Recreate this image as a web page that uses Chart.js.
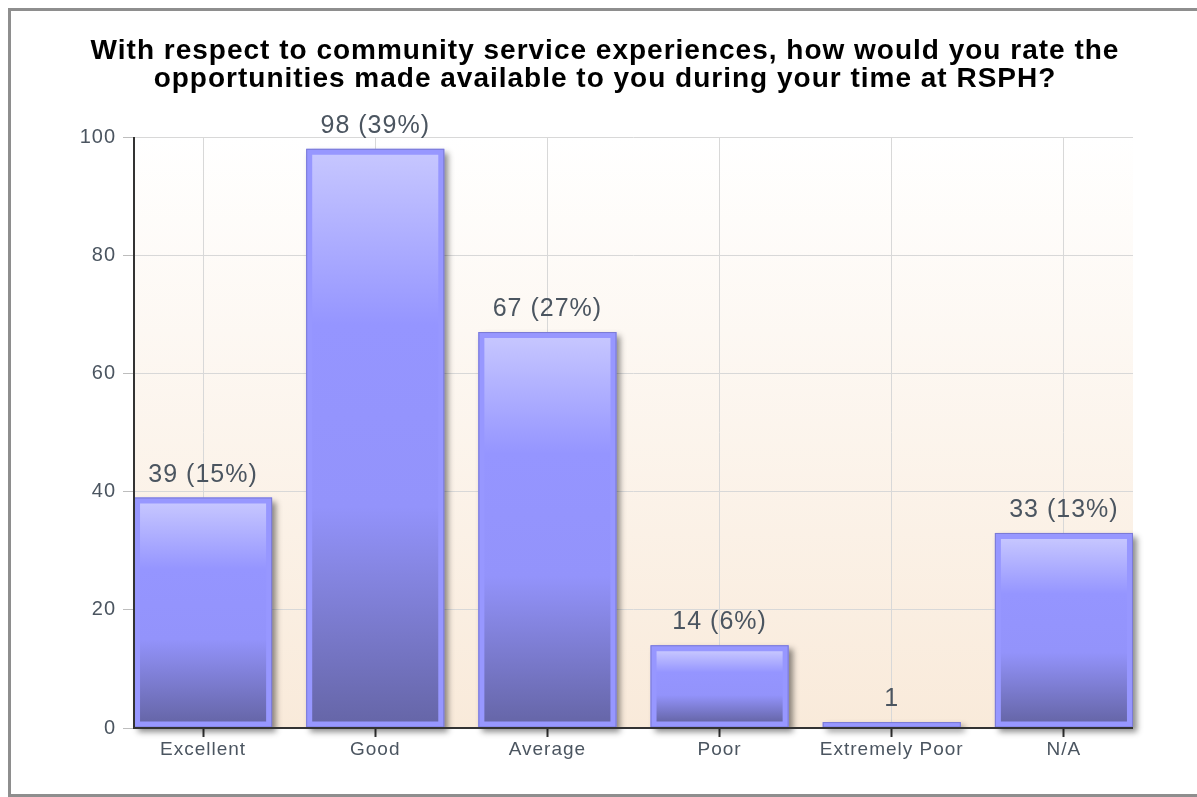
<!DOCTYPE html>
<html>
<head>
<meta charset="utf-8">
<script src="https://cdn.jsdelivr.net/npm/chart.js@4.4.0/dist/chart.umd.min.js"></script>
<style>
html, body { margin: 0; padding: 0; background: #fff; overflow: hidden; }
#chart { position: absolute; left: 0; top: 0; }
#frame { position: absolute; left: 8px; top: 8px; width: 1260px; height: 789px; box-sizing: border-box;
         border: 3px solid #8e8e8e; pointer-events: none; }
</style>
</head>
<body>
<canvas id="chart" width="1197" height="797"></canvas>
<div id="frame"></div>
<script>
var titleLines = ['With respect to community service experiences, how would you rate the',
                  'opportunities made available to you during your time at RSPH?'];
var categories = ['Excellent', 'Good', 'Average', 'Poor', 'Extremely Poor', 'N/A'];
var counts = [39, 98, 67, 14, 1, 33];
var percents = ['15%', '39%', '27%', '6%', null, '13%'];
var yTicks = [0, 20, 40, 60, 80, 100];

var textColor = '#4b5560';

// peach backdrop behind the plot, and the slightly wide lettering of the original
var backdrop = {
    id: 'backdrop',
    beforeDraw: function (chart) {
        var a = chart.chartArea, ctx = chart.ctx;
        ctx.letterSpacing = '1px';
        var g = ctx.createLinearGradient(0, a.top, 0, a.bottom);
        g.addColorStop(0, '#ffffff');
        g.addColorStop(1, '#f9eada');
        ctx.save();
        ctx.fillStyle = g;
        ctx.fillRect(a.left, a.top, a.right - a.left, a.bottom - a.top);
        ctx.restore();
    }
};

// shadow, outline, axis lines and value labels
var barDeco = {
    id: 'barDeco',
    beforeDatasetsDraw: function (chart) {
        var ctx = chart.ctx;
        chart.getDatasetMeta(0).data.forEach(function (bar) {
            var p = bar.getProps(['x', 'y', 'base', 'width'], true);
            ctx.save();
            ctx.shadowColor = 'rgba(0,0,0,0.45)';
            ctx.shadowBlur = 6;
            ctx.shadowOffsetX = 4;
            ctx.shadowOffsetY = 4;
            ctx.fillStyle = '#9797ff';
            ctx.fillRect(p.x - p.width / 2, p.y, p.width, p.base - p.y);
            ctx.restore();
        });
    },
    afterDatasetsDraw: function (chart) {
        var ctx = chart.ctx, a = chart.chartArea;
        ctx.save();
        chart.getDatasetMeta(0).data.forEach(function (bar, i) {
            var p = bar.getProps(['x', 'y', 'base', 'width'], true);
            ctx.strokeStyle = '#7a7ad6';
            ctx.lineWidth = 1;
            ctx.strokeRect(p.x - p.width / 2 + 0.5, p.y + 0.5, p.width - 1, p.base - p.y - 1);

            var txt = percents[i] ? counts[i] + ' (' + percents[i] + ')' : String(counts[i]);
            ctx.fillStyle = textColor;
            ctx.font = '25px "Liberation Sans", Arial, sans-serif';
            ctx.textAlign = 'center';
            ctx.textBaseline = 'alphabetic';
            ctx.fillText(txt, p.x, p.y - 16);
        });
        ctx.strokeStyle = '#333';
        ctx.lineWidth = 2;
        ctx.beginPath();
        ctx.moveTo(a.left, a.top);
        ctx.lineTo(a.left, a.bottom);
        ctx.lineTo(a.right, a.bottom);
        ctx.stroke();
        ctx.restore();
    }
};

new Chart(document.getElementById('chart'), {
    type: 'bar',
    data: {
        datasets: [{
            data: categories.map(function (c, i) { return { x: i, y: counts[i] }; }),
            borderColor: '#9797ff',
            borderWidth: 6,
            borderSkipped: false,
            barPercentage: 0.802,
            categoryPercentage: 1,
            backgroundColor: function (c) {
                var chart = c.chart;
                if (!chart.chartArea || c.type !== 'data') return '#9494ff';
                var ys = chart.scales.y;
                var top = ys.getPixelForValue(c.parsed.y) + 6;
                var base = ys.getPixelForValue(0) - 6;
                if (base - top < 2) return '#9494ff';
                var g = chart.ctx.createLinearGradient(0, top, 0, base);
                g.addColorStop(0, '#c6c6ff');
                g.addColorStop(0.3, '#9595ff');
                g.addColorStop(0.62, '#9393fb');
                g.addColorStop(1, '#6666a8');
                return g;
            }
        }]
    },
    options: {
        responsive: false,
        animation: false,
        layout: { padding: { left: 77, right: 64, top: 0, bottom: 0 } },
        plugins: {
            legend: { display: false },
            tooltip: { enabled: false },
            title: {
                display: true,
                text: titleLines,
                color: '#000',
                font: { family: '"Liberation Sans", Arial, sans-serif', size: 28, weight: 'bold', lineHeight: '28px' },
                padding: { top: 37, bottom: 44 }
            }
        },
        scales: {
            x: {
                type: 'linear',
                offset: false,
                min: -0.4012,
                max: 5.4012,
                afterBuildTicks: function (scale) {
                    scale.ticks = categories.map(function (c, i) { return { value: i }; });
                },
                afterFit: function (scale) { scale.height = 69; },
                ticks: {
                    autoSkip: false,
                    maxRotation: 0,
                    padding: 1,
                    color: textColor,
                    font: { family: '"Liberation Sans", Arial, sans-serif', size: 19 },
                    callback: function (v) { return categories[v]; }
                },
                grid: { offset: false, color: '#d8d8d8', tickColor: '#333', tickLength: 9, tickWidth: 2 },
                border: { display: false }
            },
            y: {
                min: 0,
                max: 100,
                afterBuildTicks: function (scale) {
                    scale.ticks = yTicks.map(function (v) { return { value: v }; });
                },
                afterFit: function (scale) { scale.width = 57; },
                ticks: {
                    padding: 7,
                    color: textColor,
                    font: { family: '"Liberation Sans", Arial, sans-serif', size: 20 }
                },
                grid: { color: '#d8d8d8', tickColor: '#bdbdbd', tickLength: 11 },
                border: { display: false }
            }
        }
    },
    plugins: [backdrop, barDeco]
});
</script>
</body>
</html>
